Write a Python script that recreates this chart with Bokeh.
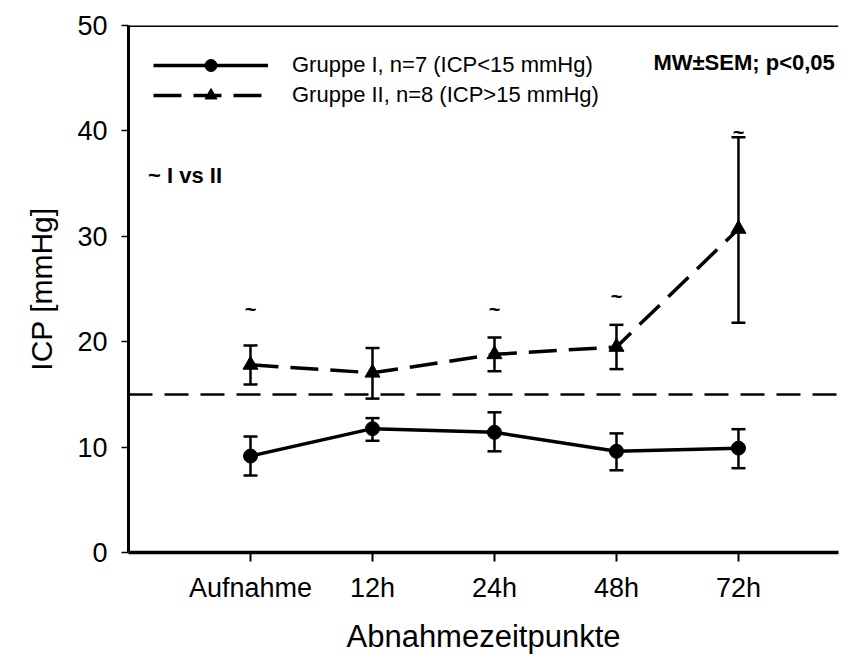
from bokeh.plotting import figure
from bokeh.models import (ColumnDataSource, Whisker, TeeHead, Span, Legend, LegendItem,
                          FixedTicker, Range1d, Label)
from bokeh.embed import file_html
from bokeh.resources import INLINE
from bokeh.core.properties import value

# ---- data ----
categories = ["Aufnahme", "12h", "24h", "48h", "72h"]
x_pos = [1, 2, 3, 4, 5]
g1_mean = [9.15, 11.75, 11.4, 9.6, 9.9]
g1_upper = [11.0, 12.75, 13.3, 11.3, 11.7]
g1_lower = [7.3, 10.6, 9.6, 7.8, 8.0]
g2_mean = [17.8, 17.05, 18.8, 19.5, 30.7]
g2_upper = [19.65, 19.4, 20.4, 21.6, 39.4]
g2_lower = [15.95, 14.6, 17.2, 17.4, 21.8]
threshold = 15
tilde_x = [1, 3, 4, 5]
tilde_y = [23.1, 23.1, 24.3, 39.9]
y_ticks = [0, 10, 20, 30, 40, 50]

FONT = "Liberation Sans"

src1 = ColumnDataSource(dict(x=x_pos, y=g1_mean, upper=g1_upper, lower=g1_lower))
src2 = ColumnDataSource(dict(x=x_pos, y=g2_mean, upper=g2_upper, lower=g2_lower))

p = figure(width=845, height=656, output_backend="svg", toolbar_location=None,
           x_range=Range1d(0, 5.82), y_range=Range1d(0, 50),
           min_border_left=128, min_border_right=7, min_border_top=25, min_border_bottom=104)
p.outline_line_color = None
p.grid.visible = False
p.background_fill_color = "white"
p.border_fill_color = "white"

# frame top line
p.add_layout(Span(location=50, dimension="width", line_color="black", line_width=3))
# threshold line
p.add_layout(Span(location=threshold, dimension="width", line_color="black",
                  line_width=2.5, line_dash="24 12"))

# error bars
for src in (src1, src2):
    w = Whisker(base="x", upper="upper", lower="lower", source=src,
                line_color="black", line_width=2.5,
                upper_head=TeeHead(size=14, line_width=2.5, line_color="black"),
                lower_head=TeeHead(size=14, line_width=2.5, line_color="black"))
    p.add_layout(w)

l1 = p.line("x", "y", source=src1, line_color="black", line_width=3.5)
s1 = p.scatter("x", "y", source=src1, marker="circle", size=14, fill_color="black",
               line_color="black")
l2 = p.line("x", "y", source=src2, line_color="black", line_width=3.5, line_dash="28 12")
s2 = p.scatter("x", "y", source=src2, marker="triangle", size=15, fill_color="black",
               line_color="black")

# significance markers
p.text(x=tilde_x, y=tilde_y, text=["~"] * len(tilde_x), text_align="center",
       text_baseline="middle", text_font=value(FONT), text_font_style="bold",
       text_font_size="20px", text_color="black")

p.add_layout(Label(x=5.79, y=46.5, text="MW±SEM; p<0,05", text_align="right",
                   text_baseline="middle", text_font=FONT, text_font_style="bold",
                   text_font_size="22px", text_color="black"))
p.add_layout(Label(x=0.16, y=35.8, text="~ I vs II", text_align="left",
                   text_baseline="middle", text_font=FONT, text_font_style="bold",
                   text_font_size="22px", text_color="black"))

legend = Legend(items=[
    LegendItem(label="Gruppe I, n=7 (ICP<15 mmHg)", renderers=[l1, s1]),
    LegendItem(label="Gruppe II, n=8 (ICP>15 mmHg)", renderers=[l2, s2]),
], location="top_left", glyph_width=115, glyph_height=30, spacing=0,
    label_standoff=24, margin=25, padding=0, border_line_color=None,
    background_fill_alpha=0, label_text_font=FONT, label_text_font_size="22px",
    label_text_color="black")
p.add_layout(legend)

# axes
p.yaxis.ticker = FixedTicker(ticks=y_ticks)
p.yaxis.axis_line_width = 3
p.yaxis.major_tick_line_width = 1.5
p.yaxis.major_tick_in = 0
p.yaxis.major_tick_out = 7
p.yaxis.minor_tick_line_color = None
p.yaxis.major_label_standoff = 14
p.yaxis.major_label_text_font = FONT
p.yaxis.major_label_text_font_size = "27px"
p.yaxis.major_label_text_color = "black"
p.yaxis.axis_label = "ICP [mmHg]"
p.yaxis.axis_label_text_font = FONT
p.yaxis.axis_label_text_font_size = "30px"
p.yaxis.axis_label_text_font_style = "normal"
p.yaxis.axis_label_text_color = "black"
p.yaxis.axis_label_standoff = 16

p.xaxis.ticker = FixedTicker(ticks=x_pos)
p.xaxis.major_label_overrides = {x: c for x, c in zip(x_pos, categories)}
p.xaxis.axis_line_width = 3.5
p.xaxis.major_tick_line_width = 2
p.xaxis.major_tick_in = 0
p.xaxis.major_tick_out = 9
p.xaxis.minor_tick_line_color = None
p.xaxis.major_label_standoff = 11
p.xaxis.major_label_text_font = FONT
p.xaxis.major_label_text_font_size = "27px"
p.xaxis.major_label_text_color = "black"
p.xaxis.axis_label = "Abnahmezeitpunkte"
p.xaxis.axis_label_text_font = FONT
p.xaxis.axis_label_text_font_size = "31px"
p.xaxis.axis_label_text_font_style = "normal"
p.xaxis.axis_label_text_color = "black"
p.xaxis.axis_label_standoff = 13

open("out.html", "w").write(file_html(p, INLINE))
